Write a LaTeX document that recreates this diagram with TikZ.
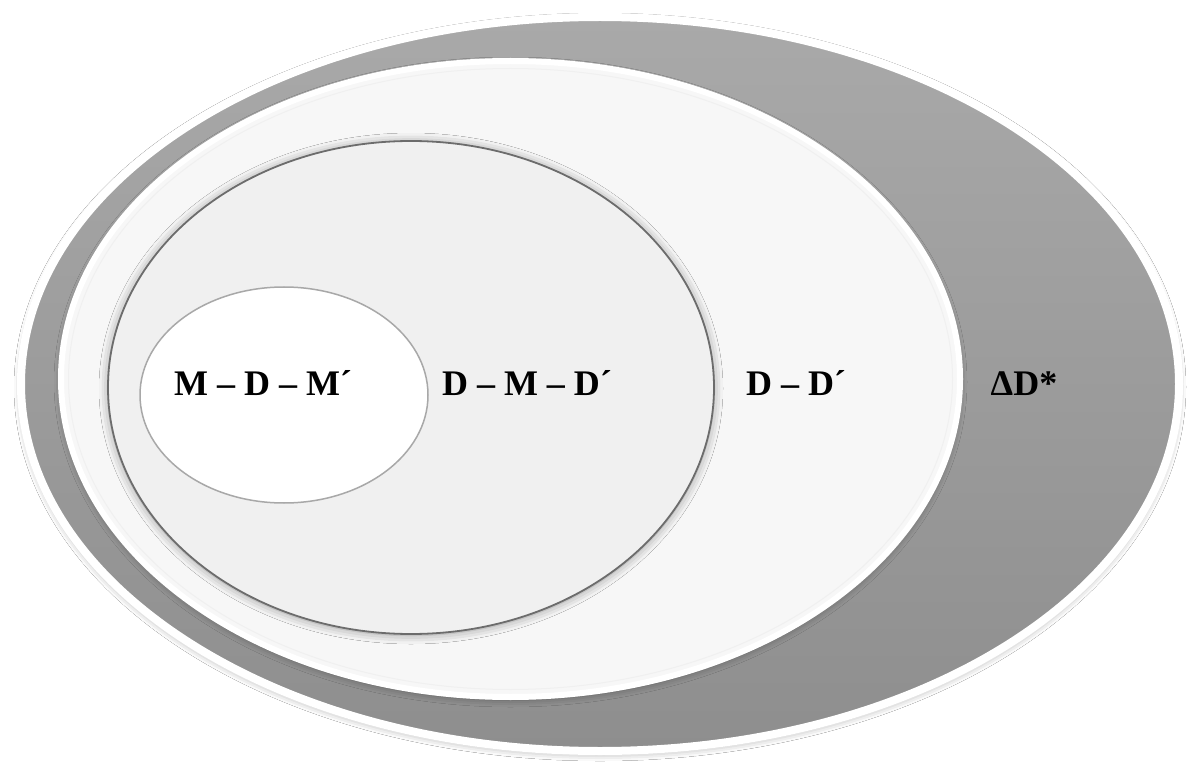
\documentclass[tikz,border=0pt]{standalone}
\usepackage{fontspec}
\setmainfont{Liberation Serif}
\usetikzlibrary{shapes.geometric,shadows.blur}

\definecolor{ringgraytop}{HTML}{A9A9A9}
\definecolor{ringgraybot}{HTML}{8E8E8E}
\definecolor{paleset}{HTML}{F7F7F7}
\definecolor{midset}{HTML}{F0F0F0}
\definecolor{midedge}{HTML}{6C6C6C}
\definecolor{coreedge}{HTML}{A8A8A8}

\tikzset{
  setshape/.style={ellipse, inner sep=0pt, outer sep=0pt},
  softshadow/.style={blur shadow={shadow xshift=0pt, shadow yshift=-3pt,
      shadow blur radius=7pt, shadow opacity=35}},
  innershadow/.style={blur shadow={shadow xshift=0pt, shadow yshift=-1pt,
      shadow blur radius=9pt, shadow opacity=40}},
  setlabel/.style={font=\fontsize{36}{40}\selectfont\bfseries, anchor=base,
      inner sep=0pt, text=black}
}

\begin{document}
\begin{tikzpicture}[x=1pt, y=-1pt]
  \useasboundingbox[fill=white] (0,0) rectangle (1192,762);

  % outermost set: Delta D*
  \node[setshape, softshadow, draw=white, line width=8pt,
        top color=ringgraytop, bottom color=ringgraybot,
        minimum width=1158pt, minimum height=734pt] (outer) at (600,384) {};

  % D - D'
  \node[setshape, softshadow, draw=white, line width=6pt, fill=paleset,
        minimum width=899pt, minimum height=636pt] (second) at (510.5,379) {};
  \node[setshape, draw=black!6, line width=1pt,
        minimum width=884pt, minimum height=621pt] (secondrim) at (510.5,379) {};

  % D - M - D'
  \node[setshape, innershadow, draw=midedge, line width=1.8pt, fill=midset,
        minimum width=606pt, minimum height=493pt] (third) at (411,387.5) {};

  % M - D - M'
  \node[setshape, draw=coreedge, line width=1.5pt, fill=white,
        minimum width=288pt, minimum height=216pt] (core) at (284,395) {};

  % labels
  \node[setlabel] (lcore)   at (263,395)  {M – D – M´};
  \node[setlabel] (lthird)  at (527,395)  {D – M – D´};
  \node[setlabel] (lsecond) at (796,395)  {D – D´};
  \node[setlabel] (louter)  at (1024,395) {ΔD*};
\end{tikzpicture}
\end{document}
